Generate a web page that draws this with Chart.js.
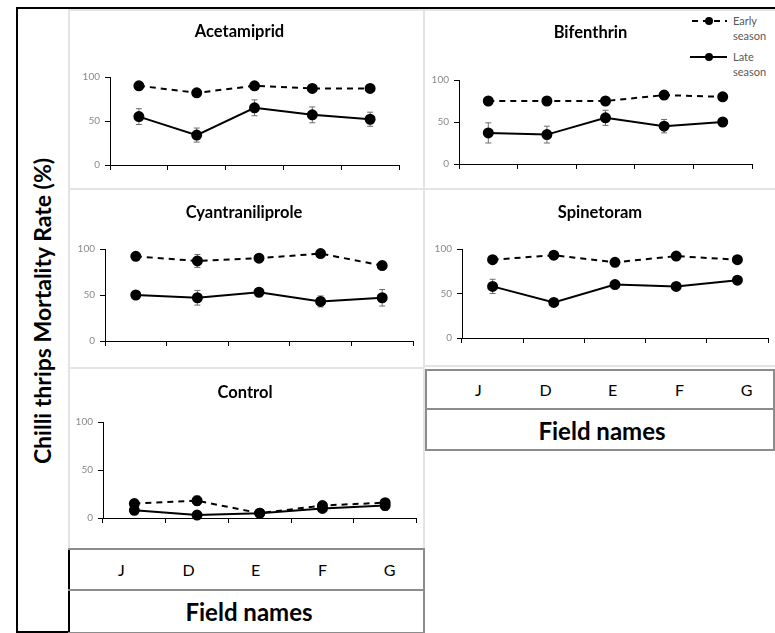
<!DOCTYPE html>
<html>
<head>
<meta charset="utf-8">
<script src="https://cdn.jsdelivr.net/npm/chart.js@4.4.0/dist/chart.umd.min.js"></script>
<style>
body { margin:0; width:775px; height:633px; position:relative; background:#fff; font-family:Lato, sans-serif; overflow:hidden; }
.abs { position:absolute; box-sizing:border-box; }
.panel { border:2px solid #e4e4e4; }
.tbl { border:2px solid #8c8c8c; }
.cell { position:absolute; text-align:center; font-size:16px; color:#000; transform:translateY(-50%); }
.fname { position:absolute; font-weight:bold; font-size:24px; color:#000; transform:translate(-50%,-50%); white-space:nowrap; }
.leg { position:absolute; font-size:11px; color:#595959; line-height:15px; }
canvas { position:absolute; }
</style>
</head>
<body>

<!-- frame -->
<div class="abs" style="left:16px;top:7px;width:759px;height:2px;background:#000"></div>
<div class="abs" style="left:16px;top:7px;width:54px;height:626px;border:2px solid #000"></div>
<div class="abs" style="left:42px;top:311px;transform:translate(-50%,-50%) rotate(-90deg);font-weight:bold;font-size:23px;white-space:nowrap">Chilli thrips Mortality Rate (%)</div>

<!-- panel outlines -->
<div class="abs panel" style="left:68px;top:9px;width:357px;height:181px"></div>
<div class="abs panel" style="left:423px;top:9px;width:354px;height:181px"></div>
<div class="abs panel" style="left:68px;top:188px;width:357px;height:181px"></div>
<div class="abs panel" style="left:423px;top:188px;width:354px;height:179px"></div>
<div class="abs panel" style="left:68px;top:367px;width:357px;height:183px"></div>

<!-- category tables -->
<div class="abs tbl" style="left:425px;top:369px;width:350px;height:82px"></div>
<div class="abs" style="left:425px;top:408px;width:350px;height:2px;background:#8c8c8c"></div>
<div class="abs tbl" style="left:68px;top:548px;width:357px;height:86px;border-left:none"></div>
<div class="abs" style="left:68px;top:589px;width:357px;height:2px;background:#8c8c8c"></div>
<div class="fname" style="left:602px;top:430px">Field names</div>
<div class="fname" style="left:249px;top:611px">Field names</div>

<!-- legend -->
<svg class="abs" style="left:685px;top:10px" width="48" height="60">
  <line x1="7" y1="11" x2="42" y2="11" stroke="#000" stroke-width="2" stroke-dasharray="6,5"/>
  <circle cx="24" cy="11" r="4" fill="#000"/>
  <line x1="5" y1="47" x2="42" y2="47" stroke="#000" stroke-width="2"/>
  <circle cx="24" cy="47" r="4" fill="#000"/>
</svg>
<div class="leg" style="left:733px;top:13px">Early<br>season</div>
<div class="leg" style="left:733px;top:49px">Late<br>season</div>

<canvas id="cAcet"></canvas>
<canvas id="cBif"></canvas>
<canvas id="cCyan"></canvas>
<canvas id="cSpin"></canvas>
<canvas id="cCtrl"></canvas>

<script>
var categories = ['J', 'D', 'E', 'F', 'G'];
var yTicks = [0, 50, 100];

// Acetamiprid
var acetEarly = [90, 82, 90, 87, 87];
var acetEarlyErr = [3, 2, 2, 3, 2];
var acetLate = [55, 34, 65, 57, 52];
var acetLateErr = [9, 8, 9, 9, 8];

// Bifenthrin
var bifEarly = [75, 75, 75, 82, 80];
var bifEarlyErr = [3, 2, 2, 3, 4];
var bifLate = [37, 35, 55, 45, 50];
var bifLateErr = [12, 10, 9, 8, 2];

// Cyantraniliprole
var cyanEarly = [92, 87, 90, 95, 82];
var cyanEarlyErr = [2, 7, 2, 2, 2];
var cyanLate = [50, 47, 53, 43, 47];
var cyanLateErr = [2, 8, 3, 6, 9];

// Spinetoram
var spinEarly = [88, 93, 85, 92, 88];
var spinEarlyErr = [2, 3, 2, 4, 2];
var spinLate = [58, 40, 60, 58, 65];
var spinLateErr = [8, 2, 2, 2, 2];

// Control
var ctrlEarly = [15, 18, 5, 13, 16];
var ctrlEarlyErr = [2, 5, 1, 2, 3];
var ctrlLate = [8, 3, 5, 10, 13];
var ctrlLateErr = [2, 1, 1, 2, 5];

///////////// error bars /////////////
var errorBars = {
    id: 'errorBars',
    beforeDatasetsDraw: function (chart) {
        var ctx = chart.ctx;
        var xs = chart.scales.x, ys = chart.scales.y;
        chart.data.datasets.forEach(function (ds) {
            if (!ds.errors) return;
            ctx.save();
            ctx.strokeStyle = '#6e6e6e';
            ctx.lineWidth = 1;
            for (var i = 0; i < ds.data.length; i++) {
                var x = xs.getPixelForValue(i);
                var y1 = ys.getPixelForValue(ds.data[i] - ds.errors[i]);
                var y2 = ys.getPixelForValue(ds.data[i] + ds.errors[i]);
                ctx.beginPath();
                ctx.moveTo(x, y1); ctx.lineTo(x, y2);
                ctx.moveTo(x - 3, y1); ctx.lineTo(x + 3, y1);
                ctx.moveTo(x - 3, y2); ctx.lineTo(x + 3, y2);
                ctx.stroke();
            }
            ctx.restore();
        });
    }
};

function drawPanel(id, box, area, title, titleY, early, earlyErr, late, lateErr) {
    var cv = document.getElementById(id);
    cv.style.left = box[0] + 'px';
    cv.style.top = box[1] + 'px';
    cv.width = box[2];
    cv.height = box[3];
    var yw = 30, xh = 5, tSize = 16.5, lh = tSize * 1.2;
    var tTop = titleY - box[1] - lh / 2;
    var tBot = area[1] - box[1] - tTop - lh;

    new Chart(cv, {
        type: 'line',
        data: {
            labels: categories,
            datasets: [
                { label: 'Early season', data: early, errors: earlyErr, borderColor: '#000', borderWidth: 2,
                  borderDash: [6, 5], pointRadius: 4.5, pointBackgroundColor: '#000', pointBorderColor: '#000',
                  tension: 0, clip: false },
                { label: 'Late season', data: late, errors: lateErr, borderColor: '#000', borderWidth: 2,
                  pointRadius: 4.5, pointBackgroundColor: '#000', pointBorderColor: '#000',
                  tension: 0, clip: false }
            ]
        },
        options: {
            responsive: false,
            animation: false,
            layout: { padding: { left: area[0] - box[0] - yw, right: box[0] + box[2] - area[2],
                                 bottom: box[1] + box[3] - area[3] - xh, top: 0 } },
            plugins: {
                legend: { display: false },
                tooltip: { enabled: false },
                title: { display: true, text: title, color: '#000',
                         font: { family: 'Lato', size: tSize, weight: 'bold' },
                         padding: { top: tTop, bottom: tBot } }
            },
            scales: {
                x: {
                    offset: true,
                    grid: { offset: true, drawOnChartArea: false, tickLength: 5, color: '#000' },
                    border: { color: '#000', width: 1 },
                    ticks: { display: false },
                    afterFit: function (s) { s.height = xh; }
                },
                y: {
                    min: 0, max: 100,
                    afterBuildTicks: function (s) { s.ticks = yTicks.map(function (v) { return { value: v }; }); },
                    grid: { drawOnChartArea: false, tickLength: 5, color: '#000' },
                    border: { color: '#000', width: 1 },
                    ticks: { color: '#8a8a8a', font: { family: 'Lato', size: 10 }, padding: 5 },
                    afterFit: function (s) { s.width = yw; }
                }
            }
        },
        plugins: [errorBars]
    });
}

drawPanel('cAcet', [68, 10, 355, 179], [110, 77, 399, 165], 'Acetamiprid', 32, acetEarly, acetEarlyErr, acetLate, acetLateErr);
drawPanel('cBif', [424, 10, 351, 179], [459, 80, 752, 164], 'Bifenthrin', 33, bifEarly, bifEarlyErr, bifLate, bifLateErr);
drawPanel('cCyan', [68, 190, 355, 177], [105, 249, 413, 341], 'Cyantraniliprole', 213, cyanEarly, cyanEarlyErr, cyanLate, cyanLateErr);
drawPanel('cSpin', [424, 190, 351, 176], [462, 249, 768, 338], 'Spinetoram', 213, spinEarly, spinEarlyErr, spinLate, spinLateErr);
drawPanel('cCtrl', [69, 369, 354, 178], [103, 422, 417, 518], 'Control', 393, ctrlEarly, ctrlEarlyErr, ctrlLate, ctrlLateErr);

///////////// category tables /////////////
function fillTable(startX, y) {
    for (var i = 0; i < categories.length; i++) {
        var d = document.createElement('div');
        d.className = 'cell';
        d.style.left = (startX + i * 67) + 'px';
        d.style.top = y + 'px';
        d.style.width = '67px';
        d.textContent = categories[i];
        document.body.appendChild(d);
    }
}
fillTable(445, 389);
fillTable(88, 569);
</script>
</body>
</html>
